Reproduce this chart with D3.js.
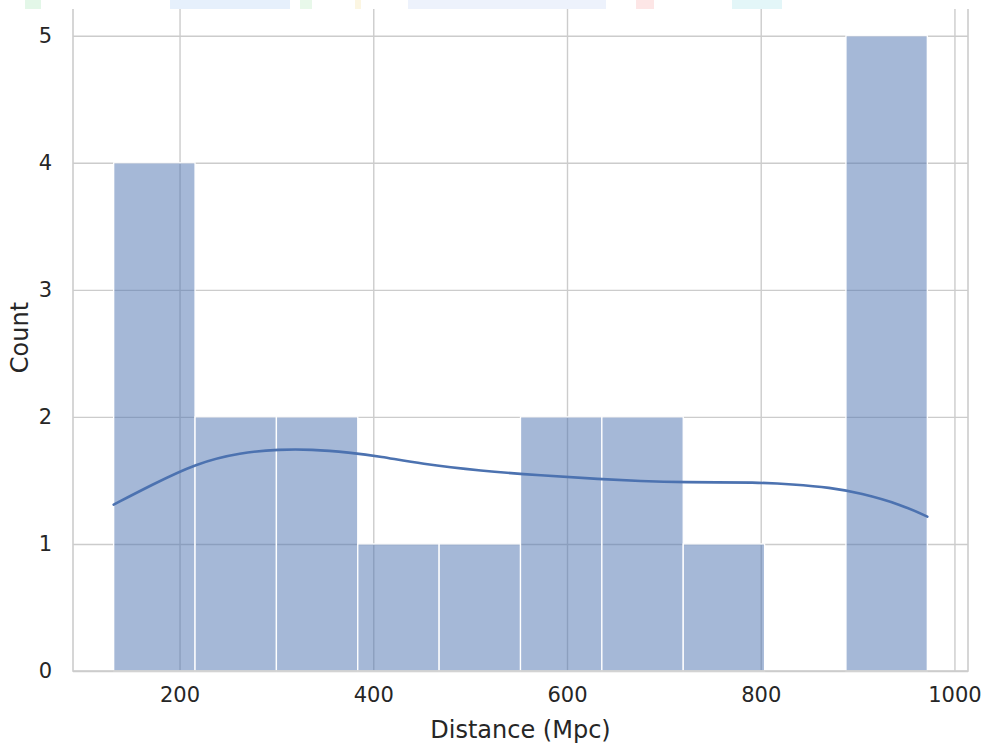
<!DOCTYPE html>
<html>
<head>
<meta charset="utf-8">
<script src="https://cdn.jsdelivr.net/npm/d3@7"></script>
<style>
  body { margin: 0; background: #fff; }
  svg text { font-family: "DejaVu Sans", sans-serif; fill: #262626; }
</style>
</head>
<body>
<svg width="984" height="745"></svg>
<script>
// histogram bins (Distance, Mpc) and counts
let binEdges = [132, 216, 300, 384, 468, 552, 636, 720, 804, 888, 972];
let counts = [4, 2, 2, 1, 1, 2, 2, 1, 0, 5];

// kde curve (distance, count)
let kdeX = [132, 170, 217, 263, 304, 335, 376, 407, 449, 511, 573, 635, 676, 717, 800, 831, 872, 903, 945, 972];
let kdeY = [1.31, 1.46, 1.635, 1.72, 1.745, 1.745, 1.72, 1.69, 1.63, 1.575, 1.54, 1.51, 1.495, 1.485, 1.485, 1.47, 1.445, 1.40, 1.31, 1.215];

let xTicks = [200, 400, 600, 800, 1000];
let yTicks = [0, 1, 2, 3, 4, 5];

let svg = d3.select('svg'),
  margin = { top: 4, right: 16, bottom: 74, left: 73 },
  width = +svg.attr('width') - margin.left - margin.right,
  height = +svg.attr('height') - margin.top - margin.bottom;

let g = svg.append('g').attr('transform', `translate(${margin.left}, ${margin.top})`);

let span = binEdges[binEdges.length - 1] - binEdges[0];
let x = d3.scaleLinear()
  .domain([binEdges[0] - span * 0.05, binEdges[binEdges.length - 1] + span * 0.05])
  .range([0, width]);

let y = d3.scaleLinear()
  .domain([0, d3.max(counts) * 1.05])
  .range([height, 0]);

// grid
g.append('g')
  .attr('class', 'grid')
  .call(d3.axisLeft(y).tickValues(yTicks).tickSize(-width).tickFormat(''))
  .call(a => a.select('.domain').remove())
  .selectAll('line').attr('stroke', '#cccccc').attr('stroke-width', 1.4);

g.append('g')
  .attr('class', 'grid')
  .attr('transform', `translate(0, ${height})`)
  .call(d3.axisBottom(x).tickValues(xTicks).tickSize(-height).tickFormat(''))
  .call(a => a.select('.domain').remove())
  .selectAll('line').attr('stroke', '#cccccc').attr('stroke-width', 1.4);

// bars
let bins = counts.map((c, i) => ({ x0: binEdges[i], x1: binEdges[i + 1], count: c }));

g.append('g')
  .selectAll('rect')
  .data(bins.filter(d => d.count > 0))
  .enter().append('rect')
  .attr('x', d => x(d.x0))
  .attr('y', d => y(d.count))
  .attr('width', d => x(d.x1) - x(d.x0))
  .attr('height', d => y(0) - y(d.count))
  .attr('fill', 'rgba(76, 114, 176, 0.5)')
  .attr('stroke', '#ffffff')
  .attr('stroke-width', 1.3);

// kde line
let line = d3.line()
  .x(d => x(d[0]))
  .y(d => y(d[1]))
  .curve(d3.curveBasis);

g.append('path')
  .datum(kdeX.map((v, i) => [v, kdeY[i]]))
  .attr('d', line)
  .attr('fill', 'none')
  .attr('stroke', '#4c72b0')
  .attr('stroke-width', 2.6)
  .attr('stroke-linecap', 'round');

// spines (top one is hidden under the strip)
g.append('rect')
  .attr('width', width).attr('height', height)
  .attr('fill', 'none')
  .attr('stroke', '#cccccc')
  .attr('stroke-width', 1.6);

// faint strip of something cut off at the top edge
let strip = [
  { x: 25, w: 16, c: '#e3f7e8' },
  { x: 170, w: 120, c: '#e6f0fc' },
  { x: 300, w: 12, c: '#e8f8ea' },
  { x: 355, w: 6, c: '#fcf6e2' },
  { x: 408, w: 198, c: '#edf2fc' },
  { x: 636, w: 18, c: '#fde6e6' },
  { x: 732, w: 50, c: '#e3f6f8' }
];
svg.append('rect').attr('x', 0).attr('y', 0).attr('width', 984).attr('height', 9).attr('fill', '#fff');
svg.append('g').selectAll('rect').data(strip).enter().append('rect')
  .attr('x', d => d.x).attr('y', 0).attr('width', d => d.w).attr('height', 9)
  .attr('fill', d => d.c);

// tick labels
g.append('g')
  .attr('transform', `translate(0, ${height})`)
  .call(d3.axisBottom(x).tickValues(xTicks).tickSize(0).tickPadding(16).tickFormat(d3.format('d')))
  .call(a => a.select('.domain').remove())
  .selectAll('text').style('font-size', '21px').attr('fill', '#262626');

g.append('g')
  .call(d3.axisLeft(y).tickValues(yTicks).tickSize(0).tickPadding(21).tickFormat(d3.format('d')))
  .call(a => a.select('.domain').remove())
  .selectAll('text').style('font-size', '21px').attr('fill', '#262626');

// axis labels
svg.append('text')
  .attr('x', margin.left + width / 2)
  .attr('y', 738)
  .attr('text-anchor', 'middle')
  .style('font-size', '24px')
  .text('Distance (Mpc)');

svg.append('text')
  .attr('transform', `translate(28, ${margin.top + height / 2}) rotate(-90)`)
  .attr('text-anchor', 'middle')
  .style('font-size', '24px')
  .text('Count');
</script>
</body>
</html>
